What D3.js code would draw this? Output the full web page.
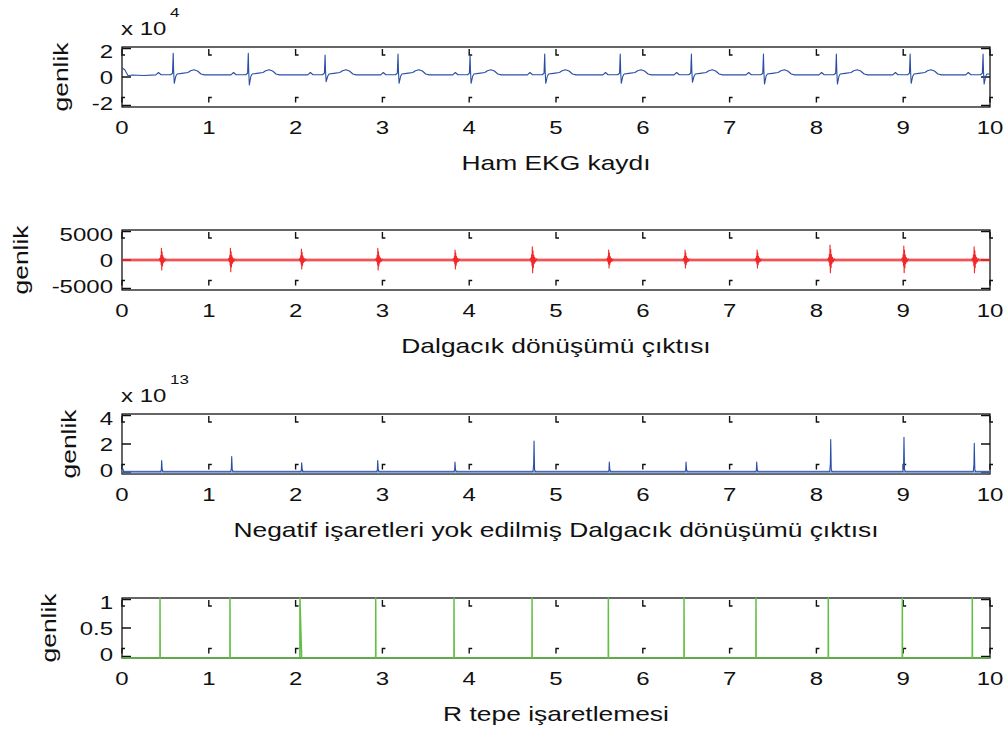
<!DOCTYPE html>
<html>
<head>
<meta charset="utf-8">
<script src="https://cdnjs.cloudflare.com/ajax/libs/d3/7.8.5/d3.min.js"></script>
<style>
body { margin: 0; background: #fff; }
text { font-family: "Liberation Sans", Arial, sans-serif; fill: #111; }
</style>
</head>
<body>
<script>
(function(){
    //x axis ticks shared by all four panels (seconds)
    var xTicks = [0, 1, 2, 3, 4, 5, 6, 7, 8, 9, 10];

    //panel 1: raw ECG, values in units of 1e4
    var ecgStart = [[0, 0.6], [0.03, 0.5], [0.07, 0.08], [0.12, 0.13], [0.25, 0.1]];
    var ecgBeatTimes = [0.59, 1.455, 2.34, 3.18, 4.01, 4.87, 5.74, 6.56, 7.39, 8.23, 9.08, 9.92];
    var ecgRPeak = [1.58, 1.58, 1.47, 1.53, 1.47, 1.53, 1.53, 1.53, 1.53, 1.53, 1.53, 1.53];
    var ecgSTrough = [-0.42, -0.53, -0.31, -0.42, -0.42, -0.42, -0.42, -0.35, -0.47, -0.47, -0.42, -0.47];
    var ecgBeforeR = [[-0.2, 0.14], [-0.17, 0.3], [-0.14, 0.15], [-0.03, 0.15], [-0.008, 0.25]];
    var ecgAfterS = [[0.03, 0.05], [0.045, 0.2], [0.1, 0.24], [0.17, 0.3], [0.2, 0.42], [0.24, 0.48], [0.28, 0.4], [0.32, 0.2], [0.36, 0.14]];
    var ecgEnd = [10, 0.2];

    //panel 2: wavelet output
    var redBurstTimes = [0.457, 1.252, 2.07, 2.95, 3.84, 4.73, 5.61, 6.49, 7.32, 8.16, 9.01, 9.82];
    var redBurstMax = [1950, 1950, 1830, 1950, 1670, 2220, 1670, 1670, 1670, 2500, 2330, 2220];
    var redBurstMin = [-1650, -1950, -1500, -1670, -1500, -2120, -1330, -1330, -1330, -2120, -2120, -2120];
    var redBurstShape = [[-0.03, 0], [-0.02, 0.15], [-0.015, -0.15], [-0.01, 0.4], [-0.006, -0.45], [-0.003, 1],
        [0.001, -1], [0.005, 0.7], [0.009, -0.6], [0.014, 0.35], [0.019, -0.3], [0.026, 0.18],
        [0.034, -0.15], [0.045, 0.08], [0.055, 0]];
    var redNoise = 250;

    //panel 3: squared wavelet output, units of 1e13
    var bluePeakTimes = [0.457, 1.264, 2.07, 2.946, 3.836, 4.747, 5.614, 6.498, 7.312, 8.165, 9.009, 9.819];
    var bluePeakValues = [0.9, 1.17, 0.75, 0.9, 0.79, 2.2, 0.79, 0.79, 0.79, 2.3, 2.45, 2.05];
    var blueBase = 0.15;
    var blueBand = [0.04, 0.24];

    //panel 4: R peak markers
    var greenTimes = [0.438, 1.244, 2.05, 2.923, 3.825, 4.724, 5.603, 6.475, 7.304, 8.137, 8.99, 9.796];
    var greenFall = [0.002, 0.002, 0.02, 0.002, 0.002, 0.002, 0.002, 0.002, 0.002, 0.002, 0.002, 0.002];

    var width = 1008, height = 733;
    var left = 122, right = 990;

    var svg = d3.select("body").append("svg")
        .attr("width", width)
        .attr("height", height);

    //build the series
    var ecg = ecgStart.slice();
    ecgBeatTimes.forEach(function(t, i){
        ecgBeforeR.forEach(function(p){ ecg.push([t + p[0], p[1]]); });
        ecg.push([t, ecgRPeak[i]]);
        ecg.push([t + 0.005, 0.4]);
        ecg.push([t + 0.012, ecgSTrough[i]]);
        ecgAfterS.forEach(function(p){ ecg.push([t + p[0], p[1]]); });
    });
    ecg = ecg.filter(function(d){ return d[0] < 10; });
    ecg.push(ecgEnd);

    var red = [[0, 0]];
    redBurstTimes.forEach(function(t, i){
        redBurstShape.forEach(function(p){
            red.push([t + p[0], p[1] >= 0 ? p[1] * redBurstMax[i] : -p[1] * redBurstMin[i]]);
        });
    });
    red.push([10, 0]);

    var blue = [[0, 0.5], [0.02, blueBase]];
    bluePeakTimes.forEach(function(t, i){
        blue.push([t - 0.012, blueBase]);
        blue.push([t - 0.004, bluePeakValues[i] * 0.3]);
        blue.push([t, bluePeakValues[i]]);
        blue.push([t + 0.006, 0.3]);
        blue.push([t + 0.015, blueBase]);
    });
    blue.push([10, blueBase]);

    var green = [[0, 0]];
    greenTimes.forEach(function(t, i){
        green.push([t - 0.001, 0]);
        green.push([t, 1]);
        green.push([t + greenFall[i], 0]);
    });
    green.push([10, 0]);

    var panels = [
        {top: 47, domain: [-2, 2], ticks: [-2, 0, 2], data: ecg, color: "#2a4ea6", title: "Ham EKG kaydı", ylabX: 68, exp: "4"},
        {top: 230, domain: [-5000, 5000], ticks: [-5000, 0, 5000], data: red, color: "#f0282a", title: "Dalgacık dönüşümü çıktısı", ylabX: 28, band: [-redNoise, redNoise], bandColor: "#f0282a"},
        {top: 414, domain: [0, 4], ticks: [0, 2, 4], data: blue, color: "#2a4ea6", title: "Negatif işaretleri yok edilmiş Dalgacık dönüşümü çıktısı", ylabX: 76, exp: "13", band: blueBand, bandColor: "#7f98d4"},
        {top: 598, domain: [0, 1], ticks: [0, 0.5, 1], data: green, color: "#62bf45", title: "R tepe işaretlemesi", ylabX: 56, lineWidth: 1.5}
    ];

    var x = d3.scaleLinear().domain([0, 10]).range([left, right]);

    //text squeezed vertically like the exported figure
    function label(g, px, py, str, size, anchor, rotate){
        g.append("text")
            .attr("transform", "translate(" + px + "," + py + ")" + (rotate ? " rotate(-90)" : "") + " scale(1,0.78)")
            .attr("text-anchor", anchor)
            .style("font-size", size + "px")
            .text(str);
    }

    panels.forEach(function(p){
        var top = p.top, bottom = p.top + 60, mid = (top + bottom) / 2;
        var y = d3.scaleLinear().domain(p.domain).range([bottom, top]);
        var g = svg.append("g");

        //box
        g.append("rect")
            .attr("x", left).attr("y", top)
            .attr("width", right - left).attr("height", bottom - top)
            .attr("fill", "none").attr("stroke", "#000").attr("stroke-width", 1.2);

        //tick marks
        var tickPath = "";
        xTicks.forEach(function(t){
            var px = x(t);
            tickPath += "M" + px + "," + (top + 2) + "V" + (top + 8) + "H" + (px + 3);
            tickPath += "M" + (px + 3) + "," + (bottom - 9.5) + "H" + px + "V" + (bottom - 4.5);
        });
        p.ticks.forEach(function(v){
            var py = Math.max(top + 1.5, Math.min(bottom - 1.5, y(v)));
            tickPath += "M" + left + "," + py + "H" + (left + 9);
            tickPath += "M" + (right - 9) + "," + py + "H" + right;
        });
        g.append("path").attr("d", tickPath)
            .attr("fill", "none").attr("stroke", "#111").attr("stroke-width", 1.4);

        //noise band
        if (p.band) {
            g.append("path")
                .datum([0, 10])
                .attr("d", d3.area().x(function(d){ return x(d); })
                    .y0(y(p.band[0])).y1(y(p.band[1])))
                .attr("fill", p.bandColor).attr("opacity", 0.6);
        }

        //signal
        g.append("path")
            .datum(p.data)
            .attr("d", d3.line().x(function(d){ return x(d[0]); }).y(function(d){ return y(d[1]); }))
            .attr("fill", "none")
            .attr("stroke", p.color)
            .attr("stroke-width", p.lineWidth || 1.1)
            .attr("stroke-linejoin", "round");

        //tick labels
        xTicks.forEach(function(t){
            label(g, x(t), bottom + 27, String(t), 24, "middle");
        });
        p.ticks.forEach(function(v){
            var c = mid + (y(v) - mid) * 0.86;
            label(g, left - 9, c + 6.7, String(v), 24, "end");
        });

        //exponent
        if (p.exp) {
            label(g, 121, top - 12, "x 10", 24, "start");
            label(g, 170, top - 30, p.exp, 17, "start");
        }

        //axis labels
        label(g, p.ylabX, mid, "genlik", 26.4, "middle", true);
        label(g, (left + right) / 2, bottom + 63, p.title, 26.4, "middle");
    });
})();
</script>
</body>
</html>
